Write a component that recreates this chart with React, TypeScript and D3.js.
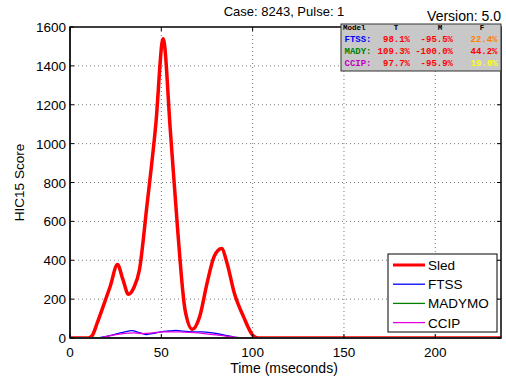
import React from "react";
import * as d3 from "d3";

const sledT = [0, 10, 12, 15, 19, 22, 26, 29, 32, 35, 38, 42, 47, 51, 55, 59, 63, 67, 71, 75, 79, 83, 86, 90, 95, 100, 103, 236];
const sledV = [0, 0, 10, 80, 185, 265, 378, 300, 225, 260, 350, 670, 1100, 1540, 1060, 550, 145, 45, 110, 280, 420, 460, 385, 230, 110, 15, 0, 0];
const ftssT = [0, 14, 20, 26, 30, 34, 38, 42, 46, 50, 54, 58, 62, 67, 72, 77, 82, 86, 90, 94, 236];
const ftssV = [0, 0, 8, 22, 32, 38, 28, 18, 24, 32, 36, 39, 35, 31, 31, 28, 20, 12, 5, 0, 0];
const madyT = [0, 50, 100, 236];
const madyV = [0, 1, 0, 0];
const ccipT = [0, 15, 20, 25, 30, 35, 40, 45, 50, 55, 60, 65, 70, 75, 80, 85, 90, 95, 236];
const ccipV = [0, 0, 8, 17, 24, 26, 23, 26, 31, 32, 31, 29, 26, 21, 16, 10, 5, 0, 0];

const xTicks = [0, 50, 100, 150, 200];
const yTicks = [0, 200, 400, 600, 800, 1000, 1200, 1400, 1600];

const seriesNames = ["Sled", "FTSS", "MADYMO", "CCIP"];
const seriesColors = ["#ff0000", "#0000ff", "#008000", "#e000e0"];
const seriesWidths = [3.5, 1.3, 1.3, 1.3];

const tableHeader = ["Model", "T", "M", "F"];
const tableModels = ["FTSS:", "MADY:", "CCIP:"];
const tableModelColors = ["#0000ff", "#008000", "#c000c0"];
const tableT = ["98.1%", "109.3%", "97.7%"];
const tableM = ["-95.5%", "-100.0%", "-95.9%"];
const tableF = ["22.4%", "44.2%", "19.0%"];
const tableFColors = ["#ff8000", "#ff0000", "#ffff00"];

export default function App() {
  const W = 506, H = 383;
  const L = 70, R = 501, T = 27, B = 338;
  const x = d3.scaleLinear().domain([0, 236]).range([L, R]);
  const y = d3.scaleLinear().domain([0, 1600]).range([B, T]);
  const line = d3
    .line<[number, number]>()
    .x((d) => x(d[0]))
    .y((d) => y(d[1]))
    .curve(d3.curveMonotoneX);
  const data: [number[], number[]][] = [
    [sledT, sledV],
    [ftssT, ftssV],
    [madyT, madyV],
    [ccipT, ccipV],
  ];
  const font = "'Liberation Sans', Arial, sans-serif";
  const mono = "'Liberation Mono', 'Courier New', monospace";
  const lgX = 388, lgY = 254, lgW = 109, lgH = 78;
  const tbX = 341, tbY = 24, tbW = 160, tbH = 47;
  return (
    <svg width={W} height={H} style={{ position: "absolute", left: 0, top: 0, background: "#fff" }}>
      <defs>
        <clipPath id="plot">
          <rect x={L} y={T} width={R - L} height={B - T} />
        </clipPath>
        <clipPath id="tbl">
          <rect x={tbX} y={tbY} width={tbW} height={tbH} />
        </clipPath>
      </defs>
      <rect x={0} y={0} width={W} height={H} fill="#fff" />
      {/* grid */}
      {xTicks.slice(1).map((t) => (
        <line key={"gx" + t} x1={x(t)} x2={x(t)} y1={T} y2={B} stroke="#555" strokeWidth={0.8} strokeDasharray="1,3" />
      ))}
      {yTicks.slice(1, -1).map((t) => (
        <line key={"gy" + t} x1={L} x2={R} y1={y(t)} y2={y(t)} stroke="#555" strokeWidth={0.8} strokeDasharray="1,3" />
      ))}
      {/* series */}
      <g clipPath="url(#plot)">
        {data.map(([ts, vs], i) => (
          <path
            key={i}
            d={line(ts.map((t, j) => [t, vs[j]] as [number, number])) || ""}
            fill="none"
            stroke={seriesColors[i]}
            strokeWidth={seriesWidths[i]}
            strokeLinejoin="round"
          />
        ))}
      </g>
      {/* axes box */}
      <rect x={L} y={T} width={R - L} height={B - T} fill="none" stroke="#000" strokeWidth={1.5} />
      <line x1={L} x2={L} y1={T} y2={B} stroke="#222" strokeWidth={2} />
      <line x1={L} x2={R} y1={B} y2={B} stroke="#222" strokeWidth={2} />
      {/* ticks */}
      {xTicks.map((t) => (
        <g key={"xt" + t}>
          <line x1={x(t)} x2={x(t)} y1={B} y2={B - 4} stroke="#000" />
          <line x1={x(t)} x2={x(t)} y1={T} y2={T + 4} stroke="#000" />
          <text x={x(t)} y={356.5} textAnchor="middle" fontFamily={font} fontSize={13.5} fill="#000">
            {t}
          </text>
        </g>
      ))}
      {yTicks.map((t) => (
        <g key={"yt" + t}>
          <line x1={L} x2={L + 4} y1={y(t)} y2={y(t)} stroke="#000" />
          <line x1={R} x2={R - 4} y1={y(t)} y2={y(t)} stroke="#000" />
          <text x={66} y={y(t) + 5} textAnchor="end" fontFamily={font} fontSize={13.5} fill="#000">
            {t}
          </text>
        </g>
      ))}
      {/* labels */}
      <text x={284} y={373} textAnchor="middle" fontFamily={font} fontSize={14} fill="#000">
        Time (mseconds)
      </text>
      <text
        transform={`translate(24,${(T + B) / 2}) rotate(-90)`}
        textAnchor="middle"
        fontFamily={font}
        fontSize={13.5}
        fill="#000"
      >
        HIC15 Score
      </text>
      <text x={284} y={16} textAnchor="middle" fontFamily={font} fontSize={13} fill="#000">
        Case: 8243, Pulse: 1
      </text>
      <text x={R} y={21} textAnchor="end" fontFamily={font} fontSize={14} fill="#000">
        Version: 5.0
      </text>
      {/* info table */}
      <rect x={tbX} y={tbY} width={tbW} height={tbH} fill="#c8c8c8" stroke="#333" strokeWidth={1} />
      <g clipPath="url(#tbl)" fontFamily={mono} fontWeight="bold" fontSize={7.5} fill="#000">
        <text x={343} y={29.5}>{tableHeader[0]}</text>
        <text x={396} y={29.5} textAnchor="middle">{tableHeader[1]}</text>
        <text x={440} y={29.5} textAnchor="middle">{tableHeader[2]}</text>
        <text x={482} y={29.5} textAnchor="middle">{tableHeader[3]}</text>
      </g>
      {tableModels.map((m, i) => {
        const yy = 42.3 + i * 11.6;
        return (
          <g key={m} fontFamily={mono} fontWeight="bold" fontSize={9}>
            <text x={344.5} y={yy} fill={tableModelColors[i]}>{m}</text>
            <text x={410} y={yy} textAnchor="end" fill="#ff0000">{tableT[i]}</text>
            <text x={453} y={yy} textAnchor="end" fill="#ff0000">{tableM[i]}</text>
            <text x={497.5} y={yy} textAnchor="end" fill={tableFColors[i]}>{tableF[i]}</text>
          </g>
        );
      })}
      {/* legend */}
      <rect x={lgX} y={lgY} width={lgW} height={lgH} fill="#fff" stroke="#000" strokeWidth={1} />
      {seriesNames.map((n, i) => {
        const yy = 265 + i * 19.2;
        return (
          <g key={n}>
            <line x1={393} x2={425} y1={yy} y2={yy} stroke={seriesColors[i]} strokeWidth={i === 0 ? 3 : 1.3} />
            <text x={428} y={yy + 5} fontFamily={font} fontSize={13.5} fill="#000">
              {n}
            </text>
          </g>
        );
      })}
    </svg>
  );
}
